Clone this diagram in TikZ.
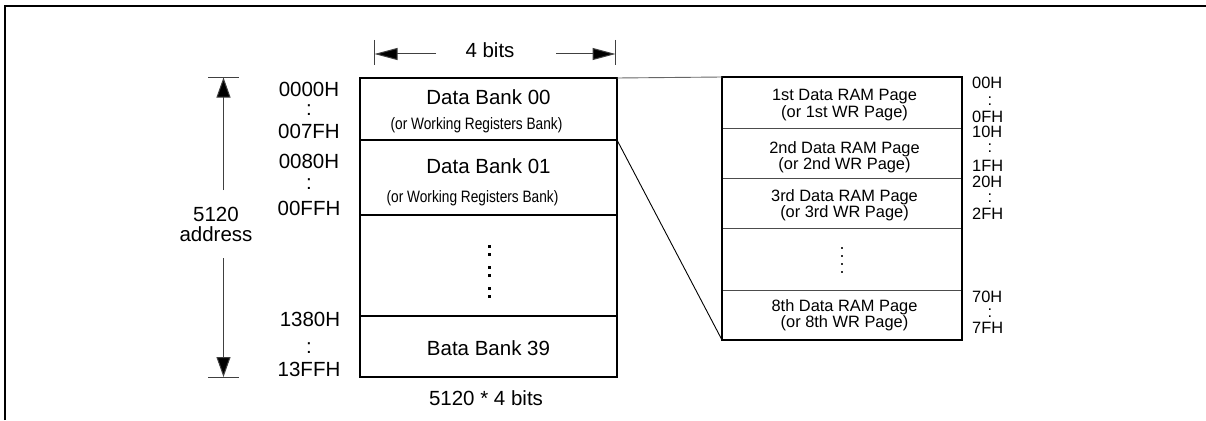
\documentclass[tikz,border=0pt]{standalone}
\usepackage{fontspec}
\setmainfont{Liberation Sans}
\newfontfamily\narrowfont[FakeStretch=0.83]{Liberation Sans}
\usetikzlibrary{arrows.meta}
\begin{document}
\begin{tikzpicture}[x=1pt,y=-1pt,
  bankbox/.style={draw, line width=2pt, minimum width=257pt, anchor=north west, inner sep=0pt, outer sep=0pt},
  pagebox/.style={draw, line width=0.9pt, draw=black!70, minimum width=240pt, anchor=north west, inner sep=0pt, outer sep=0pt},
  big/.style={font=\fontsize{20.5}{22}\selectfont, inner sep=0pt},
  narrow/.style={font=\narrowfont\fontsize{16.5}{18}\selectfont, inner sep=0pt},
  small/.style={font=\fontsize{16.4}{16.4}\selectfont, inner sep=0pt, align=center},
  addr/.style={font=\fontsize{16.4}{16.4}\selectfont, inner sep=0pt, anchor=west},
  dimline/.style={line width=1pt, draw=black!75},
  thin/.style={line width=0.9pt},
  dotsq/.style={fill=black, minimum size=3pt, inner sep=0pt},
  smalldot/.style={fill=black!80, minimum size=2pt, inner sep=0pt},
  htip/.style={-{Triangle[length=23pt,width=12pt,fill=black]}},
  vtip/.style={-{Triangle[length=20pt,width=14pt,fill=black]}}
]
\useasboundingbox (0,0) rectangle (1206,420);
% frame
\draw[line width=2pt] (5,420) -- (5,6.5) -- (1206,6.5);

% left memory box
\node[bankbox, minimum height=62pt] (b00) at (360,78) {};
\node[bankbox, minimum height=75pt] (b01) at (360,140) {};
\node[bankbox, minimum height=101pt] (bmid) at (360,215) {};
\node[bankbox, minimum height=61pt] (b39) at (360,316) {};

\node[big] (t00) at (488.5,97) {Data Bank 00};
\node[narrow] (w00) at (476.5,125) {(or Working Registers Bank)};
\node[big] (t01) at (488.5,166) {Data Bank 01};
\node[narrow] (w01) at (472.5,198) {(or Working Registers Bank)};
\node[big] (t39) at (488.5,348.5) {Bata Bank 39};
\foreach \yy/\n in {246/1,254.3/2,267.3/3,275.3/4,288.3/5,296.7/6}
  \node[dotsq] (ld\n) at (489.5,\yy) {};
\node[big] (total) at (486,398) {5120 * 4 bits};

% width dimension
\coordinate (wl) at (374.5,54);
\coordinate (wr) at (615.5,54);
\coordinate (wlt) at (436,54);
\coordinate (wrt) at (556,54);
\coordinate (wlb1) at (374.5,40);
\coordinate (wlb2) at (374.5,65);
\coordinate (wrb1) at (615.5,40);
\coordinate (wrb2) at (615.5,65);
\draw[dimline] (wlb1) -- (wlb2);
\draw[dimline] (wrb1) -- (wrb2);
\draw[dimline, htip] (wlt) -- (wl);
\draw[dimline, htip] (wrt) -- (wr);
\node[big] (bits) at (490,50) {4 bits};

% address labels
\node[big] (a1) at (309,89.5) {0000H};
\node[big] (c1) at (309,110) {:};
\node[big] (a2) at (309,131) {007FH};
\node[big] (a3) at (309,161) {0080H};
\node[big] (c2) at (309,184) {:};
\node[big] (a4) at (309,208) {00FFH};
\node[big] (a5) at (310,319.5) {1380H};
\node[big] (c3) at (309,348) {:};
\node[big] (a6) at (309,369) {13FFH};

% height dimension
\coordinate (ht) at (223.5,77.5);
\coordinate (hb) at (223.5,377);
\coordinate (htl) at (208,77.5);
\coordinate (htr) at (239,77.5);
\coordinate (hbl) at (208,377);
\coordinate (hbr) at (239,377);
\coordinate (hs1) at (223.5,190);
\coordinate (hs2) at (223.5,258);
\draw[dimline] (htl) -- (htr);
\draw[dimline] (hbl) -- (hbr);
\draw[dimline, vtip] (hs1) -- (ht);
\draw[dimline, vtip] (hs2) -- (hb);
\node[big, align=center, font=\fontsize{20.5}{20}\selectfont] (size) at (216,224) {5120\\address};

% right page box
\node[pagebox, minimum height=51pt] (p1) at (722,77) {};
\node[pagebox, minimum height=50pt] (p2) at (722,128) {};
\node[pagebox, minimum height=50pt] (p3) at (722,178) {};
\node[pagebox, minimum height=62pt] (pm) at (722,228) {};
\node[pagebox, minimum height=50pt] (p8) at (722,290) {};
\draw[line width=2pt] (p1.north west) rectangle (p8.south east);

\node[small] (tp1) at (844.5,105) {1st Data RAM Page\\(or 1st WR Page)};
\node[small] (tp2) at (844.5,157.5) {2nd Data RAM Page\\(or 2nd WR Page)};
\node[small] (tp3) at (844.5,205) {3rd Data RAM Page\\(or 3rd WR Page)};
\node[small] (tp8) at (844.5,315) {8th Data RAM Page\\(or 8th WR Page)};
\foreach \yy/\n in {248/1,256/2,264/3,272/4}
  \node[smalldot] (rd\n) at (842,\yy) {};

% page addresses
\node[addr] (r1) at (972,83) {00H};
\node[small] (rc1) at (990,101) {:};
\node[addr] (r2) at (972,117) {0FH};
\node[addr] (r3) at (972,132) {10H};
\node[small] (rc2) at (990,148) {:};
\node[addr] (r4) at (972,166) {1FH};
\node[addr] (r5) at (972,182) {20H};
\node[small] (rc3) at (990,198) {:};
\node[addr] (r6) at (972,214) {2FH};
\node[addr] (r7) at (972,297) {70H};
\node[small] (rc4) at (990,313) {:};
\node[addr] (r8) at (972,328) {7FH};

% zoom connectors
\draw[thin, draw=black!60] (b00.north east) -- (p1.north west);
\draw[thin] (b01.north east) -- (p8.south west);
\end{tikzpicture}
\end{document}
